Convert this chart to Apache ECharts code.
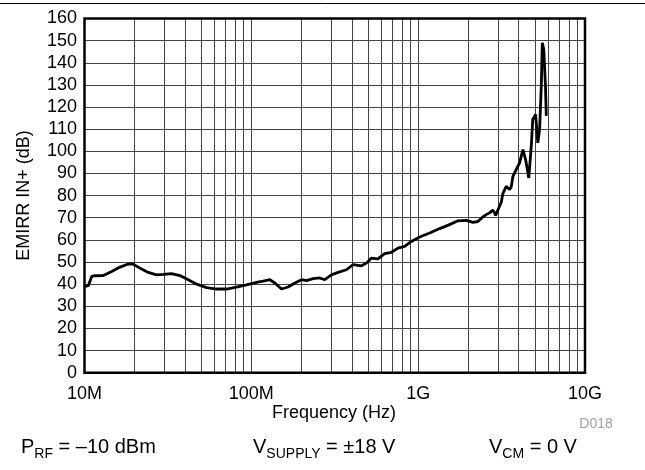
<!DOCTYPE html>
<html>
<head>
<meta charset="utf-8">
<script src="https://cdn.jsdelivr.net/npm/echarts@6/dist/echarts.min.js"></script>
<style>
html,body{margin:0;padding:0;background:#fff;}
#c{width:645px;height:470px;}
</style>
</head>
<body>
<div id="c"></div>
<script>
// Frequency in MHz
var freqMHz = [10.07,10.54,11.04,11.56,12.97,14.55,16.33,18.28,19.59,22.03,24.10,27.04,29.65,33.27,37.33,41.88,46.99,53.95,61.94,70.96,81.47,93.54,107.4,117.8,129.1,138.4,151.7,166.0,182.4,200.0,214.3,234.4,257.0,275.4,302.0,331.1,371.5,407.4,457.1,489.8,524.8,574.1,629.5,691.8,756.8,829.8,909.9,1021,1172,1346,1542,1730,1945,2128,2280,2333,2443,2559,2679,2742,2805,2871,2911,3006,3148,3221,3373,3451,3532,3614,3698,3873,4055,4246,4406,4603,4764,4864,5058,5212,5346,5470,5546,5662,5794,5861];
var emirr = [39.0,39.3,43.5,43.8,43.9,45.7,47.7,49.1,49.0,46.8,45.3,44.2,44.4,44.8,43.9,42.0,40.0,38.4,37.8,37.8,38.7,39.7,40.8,41.4,42.0,40.5,37.8,38.7,40.5,42.0,41.6,42.5,42.8,42.0,44.2,45.3,46.5,48.8,48.3,49.5,51.8,51.4,53.8,54.4,56.3,57.1,59.3,61.3,63.1,65.1,66.9,68.6,68.8,67.9,68.3,69.0,70.4,71.4,72.2,72.9,73.4,72.2,71.0,73.5,77.0,81.0,84.2,84.5,82.7,84.0,88.7,91.8,94.8,100.8,96.3,88.0,102.3,114.4,116.7,103.8,109.9,129.5,149.0,146.0,129.5,116.0];
var minorGridMHz = [20,30,40,50,60,70,80,90,200,300,400,500,600,700,800,900,2000,3000,4000,5000,6000,7000,8000,9000];
var xTickLabels = {10:'10M',100:'100M',1000:'1G',10000:'10G'};
var yMin = 0, yMax = 160, yStep = 10;

var FF = '"Liberation Sans", Arial, Helvetica, sans-serif';
var GRID = {left:84.5, top:18.5, width:500.5, height:354.2};
var chart = echarts.init(document.getElementById('c'), null, {renderer:'canvas'});
var pts = freqMHz.map(function(f,i){return [f, emirr[i]];});

chart.setOption({
  animation:false,
  backgroundColor:'#fff',
  grid:{left:GRID.left, top:GRID.top, width:GRID.width, height:GRID.height, show:false},
  xAxis:{
    type:'log', logBase:10, min:10, max:10000,
    axisLine:{show:false}, axisTick:{show:false},
    axisLabel:{fontSize:18, fontFamily:FF, color:'#000', margin:12,
      showMinLabel:true, showMaxLabel:true,
      formatter:function(v){ var k=Math.round(v); return xTickLabels[k]||''; }},
    splitLine:{show:true, lineStyle:{color:'#444', width:1}}
  },
  yAxis:{
    type:'value', min:yMin, max:yMax, interval:yStep,
    axisLine:{show:false}, axisTick:{show:false},
    axisLabel:{fontSize:18, fontFamily:FF, color:'#000', margin:7.5},
    splitLine:{show:true, lineStyle:{color:'#444', width:1}}
  },
  series:[
    {
      type:'line', data:[], z:1, silent:true,
      markLine:{
        silent:true, symbol:'none', z:1, animation:false,
        label:{show:false},
        lineStyle:{color:'#444', width:1, type:'solid'},
        data:minorGridMHz.map(function(v){return {xAxis:v};})
      }
    },
    {
      type:'line', data:pts, z:10, showSymbol:false, smooth:false,
      lineStyle:{color:'#000', width:2.8}
    }
  ],
  graphic:[
    {type:'line', z:100, shape:{x1:0,y1:3.5,x2:645,y2:3.5}, style:{stroke:'#000', lineWidth:1}},
    {type:'rect', z:100, shape:{x:GRID.left,y:GRID.top,width:GRID.width,height:GRID.height},
      style:{fill:'transparent', stroke:'#000', lineWidth:2.5}},
    {type:'text', z:100, x:24, y:195.6, rotation:Math.PI/2,
      style:{text:'EMIRR IN+ (dB)', font:'18px '+FF, fill:'#000', align:'center', verticalAlign:'middle', textAlign:'center', textVerticalAlign:'middle'}},
    {type:'text', z:100, x:334, y:413,
      style:{text:'Frequency (Hz)', font:'18px '+FF, fill:'#000', align:'center', verticalAlign:'middle', textAlign:'center', textVerticalAlign:'middle'}},
    {type:'text', z:100, x:596, y:424.5,
      style:{text:'D018', font:'14px '+FF, fill:'#a0a0a0', align:'center', verticalAlign:'middle', textAlign:'center', textVerticalAlign:'middle'}},
    {type:'text', z:100, x:21, y:447,
      style:{text:'{m|P}{s|RF}{m| = \u201310 dBm}', align:'left', verticalAlign:'middle', textAlign:'left', textVerticalAlign:'middle',
        rich:{m:{fontSize:20,fontFamily:FF,lineHeight:28,verticalAlign:'middle',fill:'#000'},
              s:{fontSize:14,fontFamily:FF,lineHeight:14,verticalAlign:'bottom',fill:'#000'}}}},
    {type:'text', z:100, x:253, y:447,
      style:{text:'{m|V}{s|SUPPLY}{m| = \u00b118 V}', align:'left', verticalAlign:'middle', textAlign:'left', textVerticalAlign:'middle',
        rich:{m:{fontSize:20,fontFamily:FF,lineHeight:28,verticalAlign:'middle',fill:'#000'},
              s:{fontSize:14,fontFamily:FF,lineHeight:14,verticalAlign:'bottom',fill:'#000'}}}},
    {type:'text', z:100, x:489, y:447,
      style:{text:'{m|V}{s|CM}{m| = 0 V}', align:'left', verticalAlign:'middle', textAlign:'left', textVerticalAlign:'middle',
        rich:{m:{fontSize:20,fontFamily:FF,lineHeight:28,verticalAlign:'middle',fill:'#000'},
              s:{fontSize:14,fontFamily:FF,lineHeight:14,verticalAlign:'bottom',fill:'#000'}}}}
  ]
});
</script>
</body>
</html>
